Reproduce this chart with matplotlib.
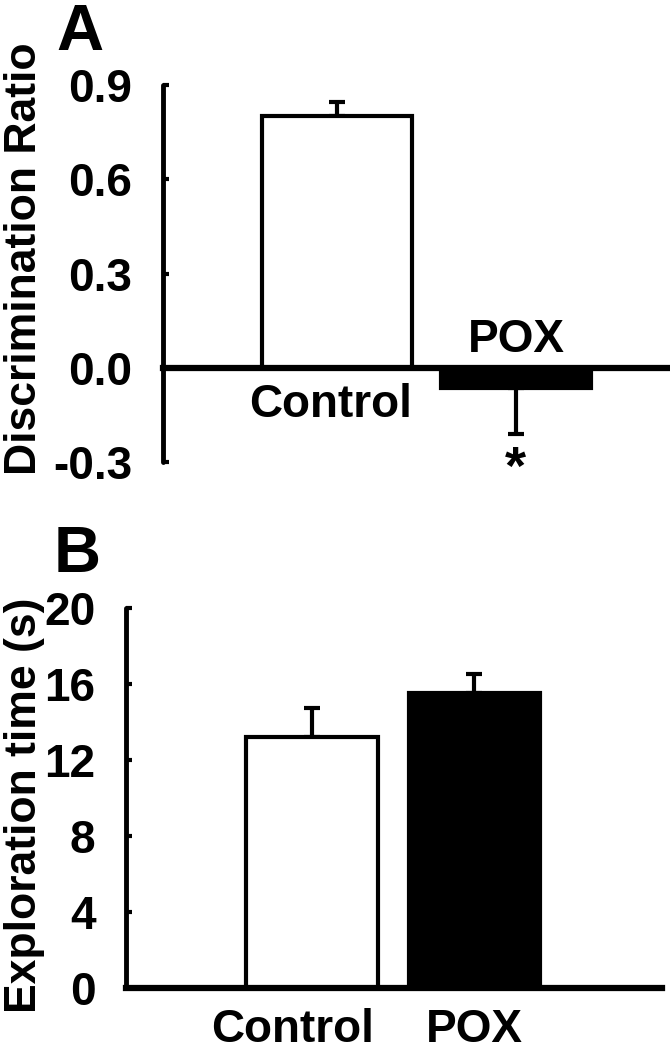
import numpy as np
import matplotlib
matplotlib.use("Agg")
import matplotlib.pyplot as plt

plt.rcParams['font.family'] = ['Liberation Sans', 'DejaVu Sans']
plt.rcParams['font.weight'] = 'bold'

groups = ["Control", "POX"]
colors = ["white", "black"]

# panel A: discrimination ratio
ratio_mean = [0.80, -0.066]
ratio_err_low = [0.0, 0.145]
ratio_err_up = [0.045, 0.0]
ratio_ticks = [-0.3, 0.0, 0.3, 0.6, 0.9]

# panel B: exploration time (s)
time_mean = [13.2, 15.5]
time_err = [1.55, 1.0]
time_ticks = [0, 4, 8, 12, 16, 20]

fig = plt.figure(figsize=(6.7, 10.5), dpi=100)
fs = 33

def style(ax):
    for s in ["top", "right"]:
        ax.spines[s].set_visible(False)
    ax.spines["left"].set_linewidth(3.5)
    ax.spines["bottom"].set_linewidth(4.5)
    ax.spines["left"].set_capstyle("round")
    ax.tick_params(axis="y", direction="in", length=4, width=3, labelsize=fs, pad=22)
    ax.set_xticks([])
    for lab in ax.get_yticklabels():
        lab.set_fontweight("bold")

# ---- A ----
axA = fig.add_axes([0.243, 0.560, 0.757, 0.359])
x = np.arange(len(groups))
axA.bar(x, ratio_mean, 0.84, color=colors, edgecolor="black", linewidth=3, zorder=2)
axA.errorbar(x, ratio_mean, yerr=[ratio_err_low, ratio_err_up], fmt="none",
             ecolor="black", elinewidth=3, capsize=6, capthick=3, zorder=1)
axA.set_xlim(-0.978, 1.863)
axA.set_ylim(-0.3, 0.9)
axA.set_yticks(ratio_ticks)
axA.set_yticklabels(["%.1f" % t for t in ratio_ticks])
axA.spines["bottom"].set_position(("data", 0))
style(axA)
axA.text(-0.04, -0.12, groups[0], ha="center", va="center", fontsize=fs, fontweight="bold")
axA.text(1.0, 0.088, groups[1], ha="center", va="center", fontsize=fs, fontweight="bold")
axA.text(1.0, -0.325, "*", ha="center", va="center", fontsize=fs + 6, fontweight="bold", clip_on=False)

# ---- B ----
axB = fig.add_axes([0.188, 0.059, 0.800, 0.362])
axB.bar(x, time_mean, 0.81, color=colors, edgecolor="black", linewidth=3, zorder=2)
axB.errorbar(x, time_mean, yerr=[[0, 0], time_err], fmt="none",
             ecolor="black", elinewidth=3, capsize=6, capthick=3, zorder=1)
axB.set_xlim(-1.145, 2.154)
axB.set_ylim(0, 20)
axB.set_yticks(time_ticks)
style(axB)
axB.text(-0.12, -2.2, groups[0], ha="center", va="center", fontsize=fs, fontweight="bold")
axB.text(1.0, -2.2, groups[1], ha="center", va="center", fontsize=fs, fontweight="bold")

fig.text(0.036, 0.754, "Discrimination Ratio", rotation=90, ha="center", va="center",
         fontsize=32, fontweight="bold")
fig.text(0.036, 0.233, "Exploration time (s)", rotation=90, ha="center", va="center",
         fontsize=32, fontweight="bold")
fig.text(0.119, 0.952, "A", ha="center", va="baseline", fontsize=47, fontweight="bold")
fig.text(0.115, 0.455, "B", ha="center", va="baseline", fontsize=47, fontweight="bold")

fig.savefig("out.png", dpi=100)
